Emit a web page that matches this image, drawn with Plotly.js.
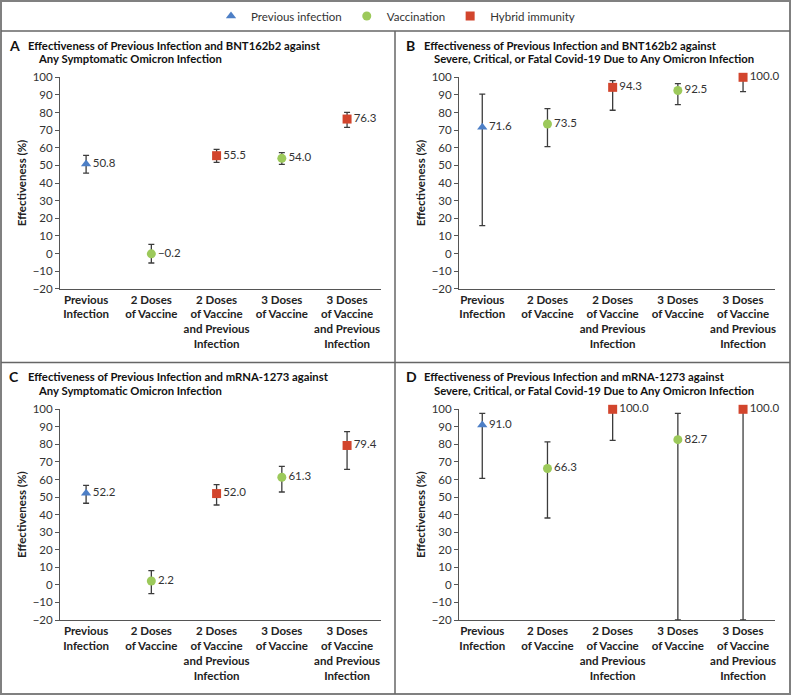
<!DOCTYPE html>
<html>
<head>
<meta charset="utf-8">
<script src="https://cdn.plot.ly/plotly-3.0.1.min.js"></script>
<style>html,body{margin:0;padding:0;background:#fff}#chart{width:791px;height:695px}</style>
</head>
<body>
<div id="chart"></div>
<script>
// ---------- DATA ----------
const categories = [
  "Previous<br>Infection",
  "2 Doses<br>of Vaccine",
  "2 Doses<br>of Vaccine<br>and Previous<br>Infection",
  "3 Doses<br>of Vaccine",
  "3 Doses<br>of Vaccine<br>and Previous<br>Infection"
];
const categoryGroup = ["Previous infection", "Vaccination", "Hybrid immunity", "Vaccination", "Hybrid immunity"];
const seriesNames = ["Previous infection", "Vaccination", "Hybrid immunity"];

// Panel A: BNT162b2, any symptomatic Omicron infection
const estA = [50.8, -0.2, 55.5, 54.0, 76.3];
const lowA = [45.6, -5.4, 51.7, 50.6, 71.6];
const highA = [55.7, 5.2, 59.1, 57.2, 80.1];
// Panel B: BNT162b2, severe/critical/fatal
const estB = [71.6, 73.5, 94.3, 92.5, 100.0];
const lowB = [15.8, 60.6, 81.3, 84.5, 91.9];
const highB = [90.5, 82.2, 98.1, 96.4, 100.0];
// Panel C: mRNA-1273, any symptomatic Omicron infection
const estC = [52.2, 2.2, 52.0, 61.3, 79.4];
const lowC = [46.5, -5.0, 45.5, 52.9, 65.8];
const highC = [56.7, 8.1, 57.1, 67.5, 87.3];
// Panel D: mRNA-1273, severe/critical/fatal
const estD = [91.0, 66.3, 100.0, 82.7, 100.0];
const lowD = [60.7, 38.1, 82.3, -20.0, -20.0];
const highD = [97.7, 81.4, 100.0, 97.7, 100.0];

const yTickVals = [-20, -10, 0, 10, 20, 30, 40, 50, 60, 70, 80, 90, 100];
const yTickText = ["\u221220", "\u221210", "0", "10", "20", "30", "40", "50", "60", "70", "80", "90", "100"];

const panelLetters = ["A", "B", "C", "D"];
const titleLine1 = [
  "Effectiveness of Previous Infection and BNT162b2 against",
  "Effectiveness of Previous Infection and BNT162b2 against",
  "Effectiveness of Previous Infection and mRNA-1273 against",
  "Effectiveness of Previous Infection and mRNA-1273 against"
];
const titleLine2 = [
  "Any Symptomatic Omicron Infection",
  "Severe, Critical, or Fatal Covid-19 Due to Any Omicron Infection",
  "Any Symptomatic Omicron Infection",
  "Severe, Critical, or Fatal Covid-19 Due to Any Omicron Infection"
];
const yTitle = "Effectiveness (%)";
// ---------- END DATA ----------

const W = 791, H = 695;
const px = x => x / W;
const py = y => 1 - y / H;
const FONT = "Lato, 'Open Sans', sans-serif";

const styles = {
  "Previous infection": {symbol: "triangle-up", color: "#4d7fc6", size: 9},
  "Vaccination": {symbol: "circle", color: "#9cc95a", size: 9},
  "Hybrid immunity": {symbol: "square", color: "#d2452d", size: 9}
};

const panels = [
  {est: estA, low: lowA, high: highA, xa: "x", ya: "y"},
  {est: estB, low: lowB, high: highB, xa: "x2", ya: "y2"},
  {est: estC, low: lowC, high: highC, xa: "x3", ya: "y3"},
  {est: estD, low: lowD, high: highD, xa: "x4", ya: "y4"}
];

const fmt = v => v.toFixed(1).replace("-", "\u2212");

const traces = [];
panels.forEach((p, pi) => {
  seriesNames.forEach(name => {
    const idx = categories.map((c, i) => i).filter(i => categoryGroup[i] === name);
    const st = styles[name];
    traces.push({
      type: "scatter",
      mode: "markers+text",
      name: name,
      legendgroup: name,
      showlegend: pi === 0,
      xaxis: p.xa, yaxis: p.ya,
      x: idx.map(i => categories[i]),
      y: idx.map(i => p.est[i]),
      text: idx.map(i => fmt(p.est[i])),
      textposition: "middle right",
      textfont: {family: FONT, size: 11.5, color: "#333"},
      cliponaxis: false,
      marker: {symbol: st.symbol, color: st.color, size: st.size, line: {width: 0}},
      error_y: {
        type: "data", symmetric: false,
        array: idx.map(i => p.high[i] - p.est[i]),
        arrayminus: idx.map(i => p.est[i] - p.low[i]),
        color: "#3c3c3c", thickness: 1.3, width: 3
      },
      hoverinfo: "skip"
    });
  });
});

const leftDom = [px(60), px(381)];
const rightDom = [px(459), px(775)];
const topDom = [py(288.7), py(77.3)];
const botDom = [py(620), py(409.3)];

function xAxis(dom, range, anchor) {
  return {
    domain: dom, anchor: anchor, type: "category",
    categoryorder: "array", categoryarray: categories,
    range: range, showline: true, linecolor: "#555", linewidth: 1,
    showgrid: false, zeroline: false, ticks: "", fixedrange: true,
    tickangle: 0, automargin: false,
    tickfont: {family: FONT, size: 11.5, color: "#222", weight: "bold"}
  };
}
function yAxis(dom, anchor) {
  return {
    domain: dom, anchor: anchor, range: [-20, 100],
    tickvals: yTickVals, ticktext: yTickText,
    showline: true, linecolor: "#555", linewidth: 1,
    ticks: "outside", ticklen: 4, tickcolor: "#555", tickwidth: 1,
    showgrid: false, zeroline: false, fixedrange: true, automargin: false,
    tickfont: {family: FONT, size: 11.5, color: "#333"},
    title: {text: yTitle, standoff: 3, font: {family: FONT, size: 11.5, color: "#222", weight: "bold"}}
  };
}

const annotations = [];
const letterX = [7, 404, 7, 404];
const line1X = [26, 422, 26, 422];
const line2X = [36, 432, 36, 432];
const line1Y = [45, 45, 376.7, 376.7];
const line2Y = [58.5, 58.5, 390.7, 390.7];
for (let i = 0; i < 4; i++) {
  annotations.push({xref: "paper", yref: "paper", x: px(letterX[i]), y: py(line1Y[i]), xanchor: "left", yanchor: "middle",
    text: panelLetters[i], showarrow: false, font: {family: FONT, size: 14, color: "#111", weight: "bold"}});
  annotations.push({xref: "paper", yref: "paper", x: px(line1X[i]), y: py(line1Y[i]), xanchor: "left", yanchor: "middle",
    text: titleLine1[i], showarrow: false, font: {family: FONT, size: 11.3, color: "#111", weight: "bold"}});
  annotations.push({xref: "paper", yref: "paper", x: px(line2X[i]), y: py(line2Y[i]), xanchor: "left", yanchor: "middle",
    text: titleLine2[i], showarrow: false, font: {family: FONT, size: 11.3, color: "#111", weight: "bold"}});
}

const shapes = [
  {type: "rect", xref: "paper", yref: "paper", x0: px(1), x1: px(790), y0: py(694), y1: py(1), line: {color: "#808080", width: 2}},
  {type: "line", xref: "paper", yref: "paper", x0: px(1), x1: px(790), y0: py(31), y1: py(31), line: {color: "#666", width: 1.5}},
  {type: "line", xref: "paper", yref: "paper", x0: px(1), x1: px(790), y0: py(362.5), y1: py(362.5), line: {color: "#666", width: 1.5}},
  {type: "line", xref: "paper", yref: "paper", x0: px(395), x1: px(395), y0: py(31), y1: py(694), line: {color: "#666", width: 1.5}}
];

const layout = {
  width: W, height: H,
  margin: {l: 0, r: 0, t: 0, b: 0},
  paper_bgcolor: "#fff", plot_bgcolor: "rgba(0,0,0,0)",
  font: {family: FONT, size: 11.5, color: "#333"},
  showlegend: true,
  legend: {orientation: "h", x: 0.5, xanchor: "center", y: py(16), yanchor: "middle",
    font: {family: FONT, size: 11.5, color: "#333"}, bgcolor: "rgba(0,0,0,0)", itemclick: false, itemdoubleclick: false},
  xaxis: xAxis(leftDom, [-0.4, 4.52], "y"),
  yaxis: yAxis(topDom, "x"),
  xaxis2: xAxis(rightDom, [-0.357, 4.49], "y2"),
  yaxis2: yAxis(topDom, "x2"),
  xaxis3: xAxis(leftDom, [-0.4, 4.52], "y3"),
  yaxis3: yAxis(botDom, "x3"),
  xaxis4: xAxis(rightDom, [-0.357, 4.49], "y4"),
  yaxis4: yAxis(botDom, "x4"),
  annotations: annotations,
  shapes: shapes
};

Plotly.newPlot("chart", traces, layout, {displayModeBar: false, staticPlot: true});
</script>
</body>
</html>
